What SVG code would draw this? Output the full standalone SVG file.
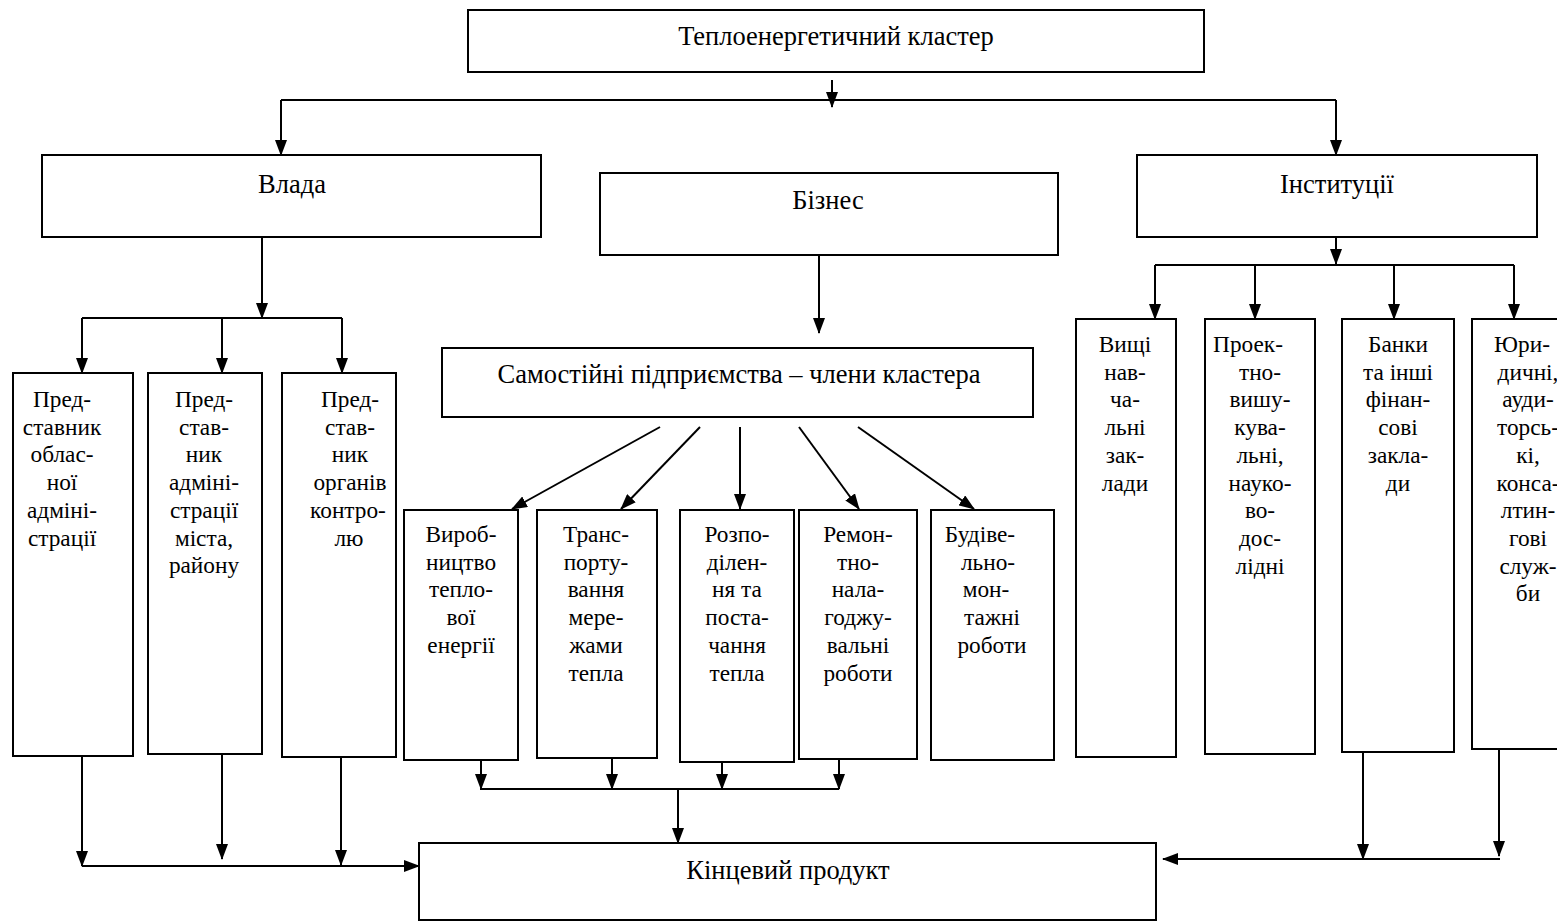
<svg xmlns="http://www.w3.org/2000/svg" width="1557" height="922" viewBox="0 0 1557 922">
<style>
.box{fill:#fff;stroke:#000;stroke-width:2}
.t{font-family:"Liberation Serif","Times New Roman",serif;fill:#000;text-anchor:middle}
.big{font-size:26.5px}
.sm{font-size:23.3px}
.c{fill:none;stroke:#000;stroke-width:2}
.a{fill:none;stroke:#000;stroke-width:2;marker-end:url(#ah)}
</style>
<defs>
<marker id="ah" markerUnits="userSpaceOnUse" markerWidth="16" markerHeight="12" refX="15" refY="6" orient="auto" viewBox="0 0 16 12">
<path d="M0,0 L16,6 L0,12 z" fill="#000"/>
</marker>
</defs>
<rect width="1557" height="922" fill="#fff"/>

<g id="n-cluster"><rect class="box" x="468" y="10" width="736" height="62"/><text class="t big" x="836" y="45">Теплоенергетичний кластер</text></g>
<g id="n-vlada"><rect class="box" x="42" y="155" width="499" height="82"/><text class="t big" x="292" y="193">Влада</text></g>
<g id="n-biznes"><rect class="box" x="600" y="173" width="458" height="82"/><text class="t big" x="828" y="209">Бізнес</text></g>
<g id="n-inst"><rect class="box" x="1137" y="155" width="400" height="82"/><text class="t big" x="1337" y="193">Інституції</text></g>
<g id="n-samost"><rect class="box" x="442" y="348" width="591" height="69"/><text class="t big" x="739" y="383">Самостійні підприємства – члени кластера</text></g>
<g id="n-final"><rect class="box" x="419" y="843" width="737" height="77"/><text class="t big" x="788" y="879">Кінцевий продукт</text></g>

<g id="n-v1"><rect class="box" x="13" y="373" width="120" height="383"/><text class="t sm" y="407"><tspan x="62">Пред-</tspan><tspan x="62" dy="27.7">ставник</tspan><tspan x="62" dy="27.7">облас-</tspan><tspan x="62" dy="27.7">ної</tspan><tspan x="62" dy="27.7">адміні-</tspan><tspan x="62" dy="27.7">страції</tspan></text></g>
<g id="n-v2"><rect class="box" x="148" y="373" width="114" height="381"/><text class="t sm" y="407"><tspan x="204">Пред-</tspan><tspan x="204" dy="27.7">став-</tspan><tspan x="204" dy="27.7">ник</tspan><tspan x="204" dy="27.7">адміні-</tspan><tspan x="204" dy="27.7">страції</tspan><tspan x="204" dy="27.7">міста,</tspan><tspan x="204" dy="27.7">району</tspan></text></g>
<g id="n-v3"><rect class="box" x="282" y="373" width="114" height="384"/><text class="t sm" y="407"><tspan x="350">Пред-</tspan><tspan x="350" dy="27.7">став-</tspan><tspan x="350" dy="27.7">ник</tspan><tspan x="350" dy="27.7">органів</tspan><tspan x="348" dy="27.7">контро-</tspan><tspan x="349" dy="27.7">лю</tspan></text></g>

<g id="n-b1"><rect class="box" x="404" y="510" width="114" height="250"/><text class="t sm" y="542"><tspan x="461">Вироб-</tspan><tspan x="461" dy="27.7">ництво</tspan><tspan x="461" dy="27.7">тепло-</tspan><tspan x="461" dy="27.7">вої</tspan><tspan x="461" dy="27.7">енергії</tspan></text></g>
<g id="n-b2"><rect class="box" x="537" y="510" width="120" height="248"/><text class="t sm" y="542"><tspan x="596">Транс-</tspan><tspan x="596" dy="27.7">порту-</tspan><tspan x="596" dy="27.7">вання</tspan><tspan x="596" dy="27.7">мере-</tspan><tspan x="596" dy="27.7">жами</tspan><tspan x="596" dy="27.7">тепла</tspan></text></g>
<g id="n-b3"><rect class="box" x="680" y="510" width="114" height="252"/><text class="t sm" y="542"><tspan x="737">Розпо-</tspan><tspan x="737" dy="27.7">ділен-</tspan><tspan x="737" dy="27.7">ня та</tspan><tspan x="737" dy="27.7">поста-</tspan><tspan x="737" dy="27.7">чання</tspan><tspan x="737" dy="27.7">тепла</tspan></text></g>
<g id="n-b4"><rect class="box" x="799" y="510" width="118" height="249"/><text class="t sm" y="542"><tspan x="858">Ремон-</tspan><tspan x="858" dy="27.7">тно-</tspan><tspan x="858" dy="27.7">нала-</tspan><tspan x="858" dy="27.7">годжу-</tspan><tspan x="858" dy="27.7">вальні</tspan><tspan x="858" dy="27.7">роботи</tspan></text></g>
<g id="n-b5"><rect class="box" x="931" y="510" width="123" height="250"/><text class="t sm" y="542"><tspan x="980">Будіве-</tspan><tspan x="988" dy="27.7">льно-</tspan><tspan x="986" dy="27.7">мон-</tspan><tspan x="992" dy="27.7">тажні</tspan><tspan x="992" dy="27.7">роботи</tspan></text></g>

<g id="n-i1"><rect class="box" x="1076" y="319" width="100" height="438"/><text class="t sm" y="352"><tspan x="1125">Вищі</tspan><tspan x="1125" dy="27.7">нав-</tspan><tspan x="1125" dy="27.7">ча-</tspan><tspan x="1125" dy="27.7">льні</tspan><tspan x="1125" dy="27.7">зак-</tspan><tspan x="1125" dy="27.7">лади</tspan></text></g>
<g id="n-i2"><rect class="box" x="1205" y="319" width="110" height="435"/><text class="t sm" y="352"><tspan x="1248">Проек-</tspan><tspan x="1260" dy="27.7">тно-</tspan><tspan x="1260" dy="27.7">вишу-</tspan><tspan x="1260" dy="27.7">кува-</tspan><tspan x="1260" dy="27.7">льні,</tspan><tspan x="1260" dy="27.7">науко-</tspan><tspan x="1260" dy="27.7">во-</tspan><tspan x="1260" dy="27.7">дос-</tspan><tspan x="1260" dy="27.7">лідні</tspan></text></g>
<g id="n-i3"><rect class="box" x="1342" y="319" width="112" height="433"/><text class="t sm" y="352"><tspan x="1398">Банки</tspan><tspan x="1398" dy="27.7">та інші</tspan><tspan x="1398" dy="27.7">фінан-</tspan><tspan x="1398" dy="27.7">сові</tspan><tspan x="1398" dy="27.7">закла-</tspan><tspan x="1398" dy="27.7">ди</tspan></text></g>
<g id="n-i4"><rect class="box" x="1472" y="319" width="114" height="430"/><text class="t sm" y="352"><tspan x="1522">Юри-</tspan><tspan x="1528" dy="27.7">дичні,</tspan><tspan x="1528" dy="27.7">ауди-</tspan><tspan x="1528" dy="27.7">торсь-</tspan><tspan x="1528" dy="27.7">кі,</tspan><tspan x="1528" dy="27.7">конса-</tspan><tspan x="1528" dy="27.7">лтин-</tspan><tspan x="1528" dy="27.7">гові</tspan><tspan x="1528" dy="27.7">служ-</tspan><tspan x="1528" dy="27.7">би</tspan></text></g>

<g id="connectors">
<path class="a" d="M832,80 V107"/>
<path class="c" d="M281,100 H1336"/>
<path class="a" d="M281,100 V155"/>
<path class="a" d="M1336,100 V155"/>
<path class="a" d="M262,237 V318"/>
<path class="c" d="M82,318 H342"/>
<path class="a" d="M82,318 V373"/>
<path class="a" d="M222,318 V373"/>
<path class="a" d="M342,318 V373"/>
<path class="a" d="M819,255 V333"/>
<path class="a" d="M660,427 L512,509"/>
<path class="a" d="M700,427 L621,509"/>
<path class="a" d="M740,427 V509"/>
<path class="a" d="M799,427 L859,509"/>
<path class="a" d="M858,427 L974,509"/>
<path class="a" d="M1336,237 V264"/>
<path class="c" d="M1155,265 H1514"/>
<path class="a" d="M1155,265 V319"/>
<path class="a" d="M1255,265 V319"/>
<path class="a" d="M1394,265 V319"/>
<path class="a" d="M1514,265 V319"/>
<path class="a" d="M82,757 V866"/>
<path class="a" d="M222,754 V859"/>
<path class="a" d="M341,757 V865"/>
<path class="a" d="M82,866 H419"/>
<path class="a" d="M481,760 V789"/>
<path class="a" d="M612,758 V789"/>
<path class="a" d="M722,762 V789"/>
<path class="a" d="M839,759 V789"/>
<path class="c" d="M480,789 H839"/>
<path class="a" d="M678,789 V843"/>
<path class="a" d="M1363,752 V859"/>
<path class="a" d="M1499,749 V856"/>
<path class="a" d="M1500,859 H1163"/>
</g>
</svg>
